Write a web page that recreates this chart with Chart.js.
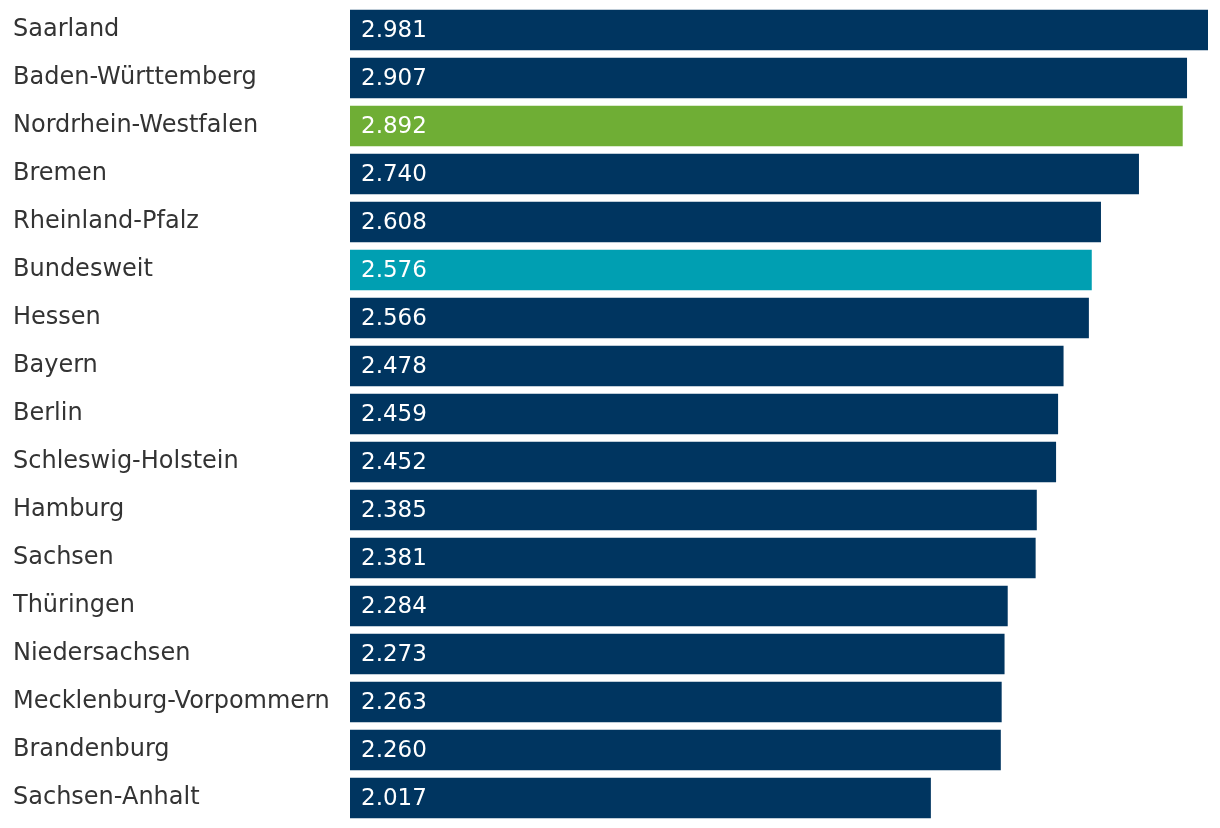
<!DOCTYPE html>
<html>
<head>
<meta charset="utf-8">
<script src="https://cdn.jsdelivr.net/npm/chart.js@4"></script>
<style>
  html, body { margin: 0; padding: 0; background: #fff; }
  #wrap { width: 1220px; height: 828px; }
</style>
</head>
<body>
<div id="wrap"><canvas id="bar-graph"></canvas></div>
<script>
const labels = ['Saarland', 'Baden-Württemberg', 'Nordrhein-Westfalen', 'Bremen', 'Rheinland-Pfalz',
    'Bundesweit', 'Hessen', 'Bayern', 'Berlin', 'Schleswig-Holstein', 'Hamburg', 'Sachsen',
    'Thüringen', 'Niedersachsen', 'Mecklenburg-Vorpommern', 'Brandenburg', 'Sachsen-Anhalt'];
const values = [2981, 2907, 2892, 2740, 2608, 2576, 2566, 2478, 2459, 2452, 2385, 2381, 2284, 2273, 2263, 2260, 2017];

const navy = '#003560';
const colors = labels.map(l => l === 'Nordrhein-Westfalen' ? '#6fae35' : (l === 'Bundesweit' ? '#009fb2' : navy));

const fmt = v => v.toLocaleString('de-DE');

const fontFamily = '"DejaVu Sans", Verdana, sans-serif';

// white value text at the start of each bar
const valueLabels = {
    id: 'valueLabels',
    afterDatasetsDraw(chart) {
        const ctx = chart.ctx;
        const meta = chart.getDatasetMeta(0);
        ctx.save();
        ctx.fillStyle = '#fff';
        ctx.font = '23px ' + fontFamily;
        ctx.textBaseline = 'middle';
        ctx.textAlign = 'left';
        meta.data.forEach((bar, i) => {
            ctx.fillText(fmt(values[i]), bar.base + 11, bar.y + 1);
        });
        ctx.restore();
    }
};

const canvas = document.querySelector('#bar-graph');
const bar_graph = new Chart(canvas, {
    type: 'bar',
    data: {
        labels: labels,
        datasets: [{
            data: values,
            backgroundColor: colors,
            barThickness: 40,
        }]
    },
    options: {
        indexAxis: 'y',
        responsive: true,
        maintainAspectRatio: false,
        animation: false,
        layout: { padding: { left: 13, right: 12, top: 6, bottom: 6 } },
        plugins: {
            legend: { display: false },
            tooltip: { enabled: false }
        },
        scales: {
            x: {
                display: false,
                min: 0,
                max: 2981,
            },
            y: {
                grid: { display: false },
                border: { display: false },
                ticks: {
                    crossAlign: 'far',
                    color: '#333',
                    font: { family: fontFamily, size: 24 },
                    padding: 0,
                },
                afterFit(scale) {
                    scale.width = 337;
                    scale.paddingTop = 0;
                    scale.paddingBottom = 0;
                }
            }
        }
    },
    plugins: [valueLabels]
});
</script>
</body>
</html>
